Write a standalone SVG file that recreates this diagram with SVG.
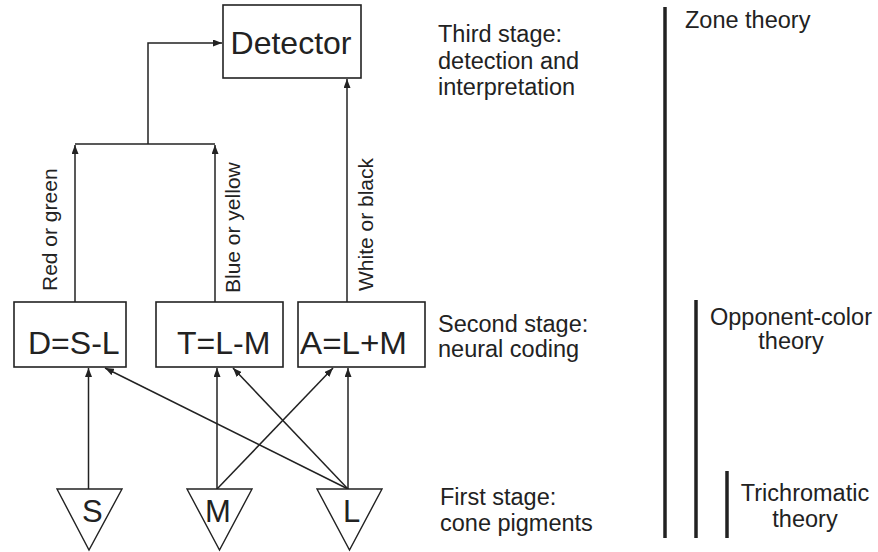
<svg xmlns="http://www.w3.org/2000/svg" width="878" height="552" viewBox="0 0 878 552">
<defs>
<marker id="ah" viewBox="0 0 9 7" refX="9" refY="3.5" markerWidth="9" markerHeight="7" markerUnits="userSpaceOnUse" orient="auto">
<path d="M0,0 L9,3.5 L0,7 z" fill="#222"/>
</marker>
<style>
.box{fill:#fff;stroke:#222;stroke-width:1.6}
.tri{fill:#fff;stroke:#222;stroke-width:1.4}
.big{font-family:"Liberation Sans",Arial,sans-serif;font-size:32px;fill:#222}
.cone{font-family:"Liberation Sans",Arial,sans-serif;font-size:31px;fill:#222}
.lbl{font-family:"Liberation Sans",Arial,sans-serif;font-size:21px;fill:#222}
.side{font-family:"Liberation Sans",Arial,sans-serif;font-size:23.5px;fill:#222}
.conn{fill:none;stroke:#222;stroke-width:1.5}
.arr{marker-end:url(#ah)}
.bar{stroke:#222;stroke-width:3.5}
</style>
</defs>
<rect width="878" height="552" fill="#fff"/>

<g id="connectors">
<path class="conn arr" d="M75,302 V145"/>
<path class="conn arr" d="M215,302 V145"/>
<path class="conn" d="M75,144 H215"/>
<path class="conn arr" d="M148,144 V43 H222"/>
<path class="conn arr" d="M347,302 V79"/>
<path class="conn arr" d="M88.5,489 V368"/>
<path class="conn arr" d="M348,489 L105,368"/>
<path class="conn arr" d="M217,489 V368"/>
<path class="conn arr" d="M217,489 L333,368"/>
<path class="conn arr" d="M348,489 L233,368"/>
<path class="conn arr" d="M348,489 V368"/>
</g>

<g id="detector">
<rect class="box" x="223" y="5" width="138" height="73"/>
<text class="big" x="291" y="54" text-anchor="middle">Detector</text>
</g>

<g id="node-d">
<rect class="box" x="14" y="302" width="112" height="65"/>
<text class="big" x="28" y="354">D=S-L</text>
</g>
<g id="node-t">
<rect class="box" x="156" y="302" width="127" height="65"/>
<text class="big" x="177" y="354">T=L-M</text>
</g>
<g id="node-a">
<rect class="box" x="298" y="302" width="127" height="65"/>
<text class="big" x="300" y="354" textLength="107" lengthAdjust="spacingAndGlyphs">A=L+M</text>
</g>

<g id="cone-s">
<polygon class="tri" points="57,489 122,489 89,550"/>
<text class="cone" x="82" y="522">S</text>
</g>
<g id="cone-m">
<polygon class="tri" points="187,489 252,489 219.5,550"/>
<text class="cone" x="205" y="522">M</text>
</g>
<g id="cone-l">
<polygon class="tri" points="317,489 382,489 349.5,550"/>
<text class="cone" x="343" y="522">L</text>
</g>

<g id="channel-labels">
<text class="lbl" transform="translate(57,291) rotate(-90)">Red or green</text>
<text class="lbl" transform="translate(240,293) rotate(-90)">Blue or yellow</text>
<text class="lbl" transform="translate(373,291) rotate(-90)">White or black</text>
</g>

<g id="stage-labels">
<text class="side" x="438" y="42">Third stage:</text>
<text class="side" x="438" y="69">detection and</text>
<text class="side" x="438" y="95">interpretation</text>
<text class="side" x="438" y="332">Second stage:</text>
<text class="side" x="438" y="357">neural coding</text>
<text class="side" x="440" y="505">First stage:</text>
<text class="side" x="440" y="531">cone pigments</text>
</g>

<g id="theories">
<line class="bar" x1="665" y1="7" x2="665" y2="538"/>
<line class="bar" x1="696" y1="300" x2="696" y2="538"/>
<line class="bar" x1="727" y1="471" x2="727" y2="538"/>
<text class="side" x="685" y="28">Zone theory</text>
<text class="side" x="791" y="325" text-anchor="middle">Opponent-color</text>
<text class="side" x="791" y="349" text-anchor="middle">theory</text>
<text class="side" x="805" y="501" text-anchor="middle">Trichromatic</text>
<text class="side" x="805" y="527" text-anchor="middle">theory</text>
</g>
</svg>
